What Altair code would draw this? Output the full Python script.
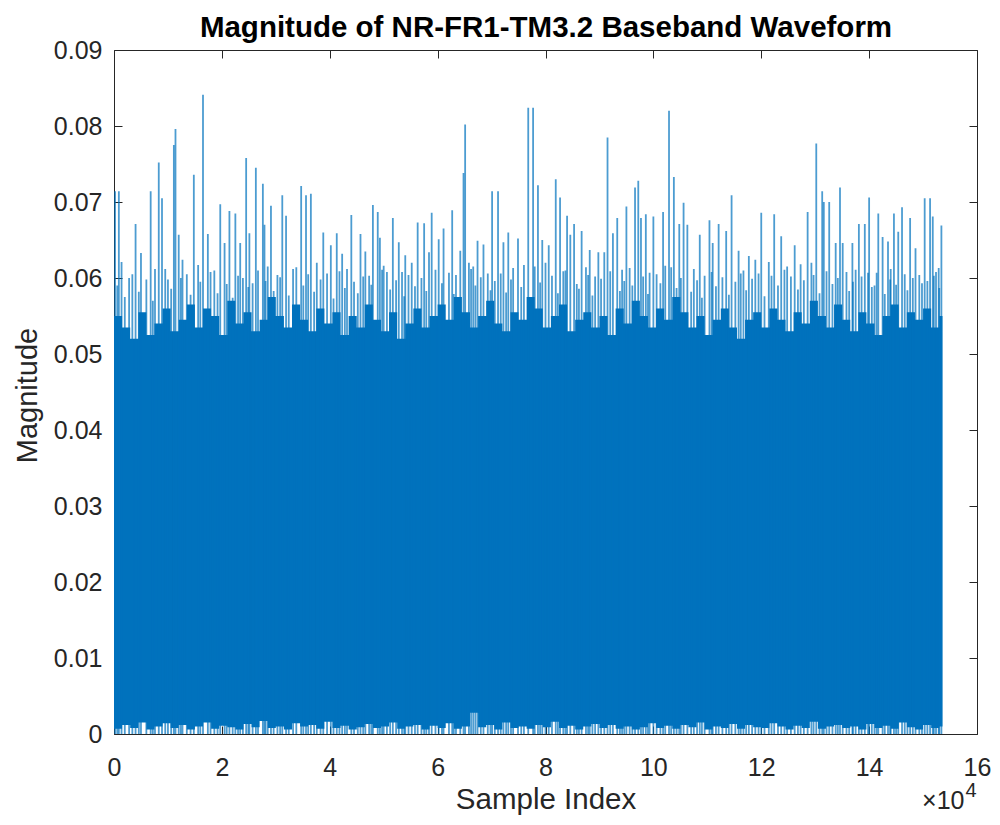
import altair as alt
import pandas as pd

# ---- data ----
# dense body of the waveform: upper edge and lower edge, sampled every 1500 samples
band_top = [
    0.0550, 0.0535, 0.0520, 0.0555, 0.0525, 0.0540, 0.0560, 0.0530, 0.0545, 0.0565,
    0.0535, 0.0560, 0.0550, 0.0525, 0.0570, 0.0540, 0.0555, 0.0530, 0.0545, 0.0575,
    0.0550, 0.0535, 0.0565, 0.0545, 0.0530, 0.0560, 0.0540, 0.0555, 0.0525, 0.0550,
    0.0535, 0.0565, 0.0545, 0.0530, 0.0555, 0.0520, 0.0540, 0.0560, 0.0535, 0.0550,
    0.0565, 0.0545, 0.0575, 0.0555, 0.0535, 0.0550, 0.0570, 0.0540, 0.0530, 0.0555,
    0.0545, 0.0575, 0.0560, 0.0535, 0.0550, 0.0565, 0.0530, 0.0545, 0.0555, 0.0535,
    0.0550, 0.0525, 0.0560, 0.0540, 0.0570, 0.0550, 0.0535, 0.0560, 0.0545, 0.0575,
    0.0555, 0.0535, 0.0550, 0.0525, 0.0545, 0.0560, 0.0535, 0.0520, 0.0545, 0.0555,
    0.0535, 0.0560, 0.0545, 0.0530, 0.0555, 0.0540, 0.0570, 0.0550, 0.0535, 0.0565,
    0.0545, 0.0530, 0.0555, 0.0540, 0.0525, 0.0550, 0.0565, 0.0535, 0.0555, 0.0545,
    0.0560, 0.0535, 0.0550, 0.0550,
]
band_bottom = [
    0.0007, 0.0012, 0.0008, 0.0015, 0.0006, 0.0010, 0.0014, 0.0008, 0.0012, 0.0006,
    0.0010, 0.0015, 0.0007, 0.0011, 0.0009, 0.0006, 0.0013, 0.0009, 0.0017, 0.0008,
    0.0010, 0.0006, 0.0014, 0.0010, 0.0012, 0.0007, 0.0016, 0.0008, 0.0011, 0.0006,
    0.0009, 0.0013, 0.0008, 0.0010, 0.0015, 0.0007, 0.0010, 0.0012, 0.0006, 0.0011,
    0.0008, 0.0014, 0.0007, 0.0010, 0.0028, 0.0009, 0.0012, 0.0006, 0.0015, 0.0008,
    0.0010, 0.0007, 0.0012, 0.0009, 0.0016, 0.0008, 0.0011, 0.0006, 0.0010, 0.0013,
    0.0008, 0.0012, 0.0007, 0.0010, 0.0006, 0.0009, 0.0014, 0.0008, 0.0011, 0.0007,
    0.0012, 0.0009, 0.0015, 0.0006, 0.0010, 0.0008, 0.0013, 0.0007, 0.0012, 0.0009,
    0.0008, 0.0014, 0.0010, 0.0006, 0.0011, 0.0008, 0.0016, 0.0007, 0.0010, 0.0012,
    0.0008, 0.0010, 0.0006, 0.0013, 0.0008, 0.0011, 0.0007, 0.0015, 0.0009, 0.0006,
    0.0012, 0.0008, 0.0010, 0.0010,
]
band_sample = list(range(0, 153001, 1500)) + [153600]

# individual peaks that rise well above the dense body
peak_sample = [
    200, 900, 1400, 4000, 5000, 6800, 8300, 8900, 11100, 11400, 12000, 12700, 14800,
    16500, 17400, 19700, 20500, 21400, 22500, 23400, 24500, 25100, 25700, 26300, 27600,
    27900, 29100, 31200, 31900, 34700, 35600, 36500, 38800, 40200, 41300, 42300, 44000,
    45700, 46600, 48000, 48900, 49300, 50600, 51700, 52800, 54000, 55200, 56300, 57500,
    58400, 58900, 60200, 61100, 62700, 64200, 64800, 65100, 65800, 67400, 68500, 70100,
    71200, 72200, 73100, 74900, 76800, 77700, 78600, 79400, 80600, 81900, 82700, 84000,
    84600, 85300, 86700, 88200, 89800, 90900, 91500, 92500, 93300, 95000, 96600, 97200,
    97700, 98600, 100000, 101800, 102900, 103800, 104800, 105600, 106300, 108600, 110400,
    111000, 112100, 113500, 114500, 115800, 117700, 118900, 120000, 121400, 122400,
    123700, 126200, 127300, 128600, 130200, 131300, 131600, 132600, 133800, 134600,
    135100, 135800, 136900, 138100, 139200, 140000, 141000, 141700, 142500, 143500,
    144600, 145400, 146100, 147600, 148600, 150300, 151300, 151800, 152400, 153400,
]
peak_value = [
    0.0714, 0.0714, 0.0621, 0.0671, 0.0633, 0.0714, 0.0752, 0.0705, 0.0775, 0.0796, 0.0657, 0.0624, 0.0736,
    0.0841, 0.0658, 0.0697, 0.0646, 0.0688, 0.0685, 0.0646, 0.0758, 0.0659, 0.0593, 0.0745, 0.0724,
    0.0670, 0.0695, 0.0709, 0.0682, 0.0721, 0.0709, 0.0711, 0.0660, 0.0643, 0.0659, 0.0632, 0.0683,
    0.0658, 0.0635, 0.0696, 0.0687, 0.0653, 0.0608, 0.0679, 0.0647, 0.0630, 0.0620, 0.0673, 0.0672,
    0.0634, 0.0686, 0.0651, 0.0665, 0.0689, 0.0636, 0.0738, 0.0802, 0.0620, 0.0649, 0.0644, 0.0714,
    0.0714, 0.0647, 0.0660, 0.0652, 0.0824, 0.0824, 0.0722, 0.0650, 0.0643, 0.0730, 0.0706, 0.0682,
    0.0657, 0.0671, 0.0662, 0.0637, 0.0634, 0.0634, 0.0785, 0.0659, 0.0679, 0.0694, 0.0719, 0.0728,
    0.0679, 0.0684, 0.0681, 0.0687, 0.0820, 0.0733, 0.0671, 0.0699, 0.0670, 0.0657, 0.0676,
    0.0646, 0.0671, 0.0662, 0.0709, 0.0636, 0.0629, 0.0624, 0.0686, 0.0621, 0.0684,
    0.0655, 0.0643, 0.0618, 0.0687, 0.0777, 0.0714, 0.0700, 0.0700, 0.0646, 0.0719,
    0.0646, 0.0608, 0.0646, 0.0671, 0.0671, 0.0706, 0.0590, 0.0685, 0.0654, 0.0648,
    0.0685, 0.0661, 0.0693, 0.0679, 0.0639, 0.0705, 0.0705, 0.0681, 0.0608, 0.0669,
]
# smaller peaks just above the dense body
mid_sample = [
    2800, 7600, 10000, 13500, 15600, 18600, 23900, 28500, 30300, 33200, 37600, 39500,
    43200, 47300, 50000, 53400, 59600, 63400, 66600, 69300, 74000, 76000, 80000, 83300,
    87500, 89200, 94200, 99300, 102200, 107500, 109500, 116700, 119500, 124800, 125500,
    129300, 137500, 139800, 144000, 149300, 152900,
    600, 2000, 3400, 4600, 6000, 7200, 9500, 10600, 12400, 14200,
    16000, 17900, 19200, 20900, 22000, 23000, 24900, 26700, 28100, 29600,
    30800, 32400, 33800, 35100, 36000, 37100, 38300, 40700, 41800, 42800,
    44500, 45200, 46200, 47700, 49700, 51200, 52300, 53800, 54600, 55800,
    57000, 57900, 60800, 62100, 63000, 66200, 67000, 68000, 69800, 70600,
    71700, 72700, 73600, 75500, 78000, 79000, 81200, 82300, 83700, 85800,
    86200, 87900, 88700, 90300, 92000, 93800, 94600, 95600, 96100, 98100,
    99000, 100600, 101300, 103300, 104300, 105100, 107000, 108100, 109000, 110800,
    111600, 112800, 114000, 115200, 116200, 117200, 118300, 120600, 121900, 123100,
    124300, 126800, 127900, 129700, 130800, 132100, 133200, 134200, 136300, 137000,
    138600, 140500, 141400, 142900, 143900, 145000, 146600, 147100, 148100, 149800,
    150800, 152000, 153000,
]
mid_value = [
    0.0600, 0.0612, 0.0598, 0.0605, 0.0617, 0.0610, 0.0600, 0.0615, 0.0604, 0.0612, 0.0620, 0.0606,
    0.0612, 0.0603, 0.0616, 0.0608, 0.0611, 0.0604, 0.0615, 0.0606, 0.0613, 0.0617, 0.0620, 0.0609,
    0.0614, 0.0602, 0.0611, 0.0607, 0.0616, 0.0612, 0.0603, 0.0610, 0.0606, 0.0615, 0.0602,
    0.0620, 0.0611, 0.0607, 0.0612, 0.0604, 0.0613,
    0.0590, 0.0575, 0.0605, 0.0582, 0.0598, 0.0570, 0.0612, 0.0586, 0.0600, 0.0578,
    0.0595, 0.0608, 0.0580, 0.0592, 0.0574, 0.0603, 0.0588, 0.0610, 0.0596, 0.0583,
    0.0601, 0.0577, 0.0614, 0.0590, 0.0605, 0.0582, 0.0598, 0.0573, 0.0609, 0.0587,
    0.0595, 0.0580, 0.0602, 0.0591, 0.0611, 0.0585, 0.0597, 0.0576, 0.0604, 0.0589,
    0.0600, 0.0583, 0.0593, 0.0607, 0.0579, 0.0612, 0.0590, 0.0601, 0.0584, 0.0596,
    0.0606, 0.0581, 0.0598, 0.0588, 0.0615, 0.0594, 0.0603, 0.0580, 0.0610, 0.0592,
    0.0586, 0.0604, 0.0577, 0.0599, 0.0609, 0.0583, 0.0596, 0.0613, 0.0590, 0.0602,
    0.0579, 0.0605, 0.0593, 0.0614, 0.0587, 0.0600, 0.0582, 0.0597, 0.0574, 0.0608,
    0.0589, 0.0601, 0.0578, 0.0595, 0.0606, 0.0584, 0.0599, 0.0576, 0.0603, 0.0590,
    0.0611, 0.0585, 0.0597, 0.0604, 0.0580, 0.0609, 0.0592, 0.0600, 0.0583, 0.0595,
    0.0602, 0.0588, 0.0607, 0.0579, 0.0598, 0.0591, 0.0605, 0.0584, 0.0600, 0.0593,
    0.0596, 0.0603, 0.0587,
]

x_ticks = [0, 20000, 40000, 60000, 80000, 100000, 120000, 140000, 160000]
y_ticks = [0, 0.01, 0.02, 0.03, 0.04, 0.05, 0.06, 0.07, 0.08, 0.09]

band = pd.DataFrame({"sample": band_sample, "top": band_top, "bottom": band_bottom})
peaks = pd.DataFrame({"sample": peak_sample + mid_sample, "value": peak_value + mid_value})

BLUE = "#0072BD"
AX = "#262626"
FONT = "Liberation Sans"
W, H = 863, 684

xs = alt.Scale(domain=[0, 160000], nice=False, zero=False)
ys = alt.Scale(domain=[0, 0.09], nice=False, zero=False)

common = dict(grid=False, domainColor=AX, tickColor=AX, labelColor=AX, titleColor=AX,
              labelFont=FONT, titleFont=FONT, domainWidth=1, tickWidth=1)

# main layer: labelled bottom/left axes
area = alt.Chart(band).mark_area(color=BLUE, interpolate="step-after", opacity=1).encode(
    x=alt.X("sample:Q", scale=xs, axis=alt.Axis(
        orient="bottom", values=x_ticks, labelExpr="format(datum.value/10000,'d')",
        tickSize=0, labelPadding=21, labelFontSize=25, labelFlush=False,
        title="Sample Index", titleFontSize=29.5, titleFontWeight="normal",
        titleX=W / 2, titleY=74, titleBaseline="alphabetic", titleAlign="center", **common)),
    y=alt.Y("top:Q", scale=ys, axis=alt.Axis(
        orient="left", values=y_ticks,
        labelExpr="datum.value == 0 ? '0' : format(datum.value, '.2f')",
        tickSize=0, labelPadding=12, labelFontSize=25, labelFlush=False,
        title="Magnitude", titleFontSize=29, titleFontWeight="normal",
        titleX=-87, titleY=H / 2 + 3, titleBaseline="middle", titleAlign="center", titleAngle=270,
        **common)),
    y2="bottom:Q",
)

# peaks, with inward ticks on bottom and left edges; the left-edge axis carries the chart title
spikes = alt.Chart(peaks).mark_rule(color=BLUE, strokeWidth=1.8, opacity=0.7).encode(
    x=alt.X("sample:Q", scale=xs, axis=alt.Axis(
        orient="top", offset=-H, values=x_ticks, labels=False, domain=False,
        tickSize=8, title="×10", titleFontSize=25, titleFontWeight="normal",
        titleX=W - 13, titleY=74, titleBaseline="alphabetic", titleAlign="right", **common)),
    y=alt.Y("value:Q", scale=ys, axis=alt.Axis(
        orient="right", offset=-W, values=y_ticks, labels=False, domain=False,
        tickSize=8, title="Magnitude of NR-FR1-TM3.2 Baseband Waveform",
        titleFontSize=29.5, titleFontWeight="bold", titleAngle=0, titleX=W / 2, titleY=-14,
        titleAlign="center", titleBaseline="alphabetic",
        **{**common, "titleColor": "black"})),
    y2=alt.datum(0),
)

# invisible layer carrying the top/right frame with inward ticks
frame = alt.Chart(peaks).mark_point(opacity=0).encode(
    x=alt.X("sample:Q", scale=xs, axis=alt.Axis(
        orient="bottom", offset=-H, values=x_ticks, labels=False, domain=True,
        tickSize=8, title="4", titleFontSize=20, titleFontWeight="normal",
        titleX=W - 12, titleY=H + 62, titleBaseline="alphabetic", titleAlign="left", **common)),
    y=alt.Y("value:Q", scale=ys, axis=alt.Axis(
        orient="left", offset=-W, values=y_ticks, labels=False, domain=True,
        tickSize=8, title=None, **common)),
)

chart = alt.layer(area, spikes, frame).resolve_axis(x="independent", y="independent").properties(
    width=W,
    height=H,
    autosize=alt.AutoSizeParams(type="none"),
    padding={"left": 106, "top": 42, "right": 14, "bottom": 82},
    background="white",
).configure_view(stroke=None)

chart.save("out.html", embed_options={"renderer": "svg", "actions": False})
